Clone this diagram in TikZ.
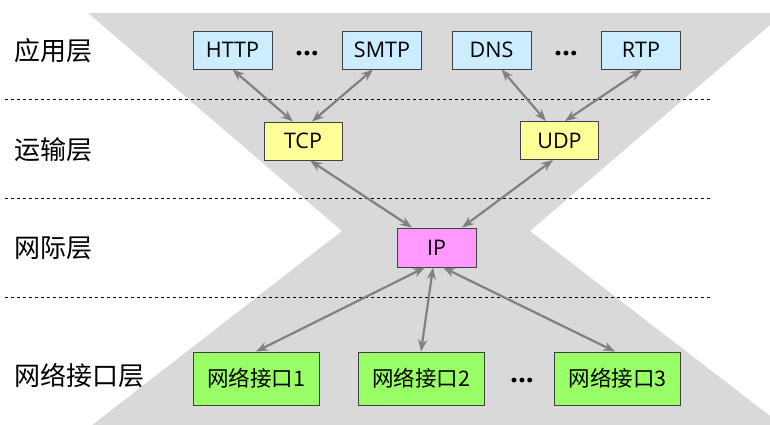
\documentclass[tikz,border=0pt]{standalone}
\usepackage{fontspec}
\setmainfont{Open Sans}
\newfontfamily\cjk{Noto Sans CJK SC}
\usetikzlibrary{arrows.meta}
\definecolor{bgray}{HTML}{D9D9D9}
\definecolor{appblue}{HTML}{CCECFF}
\definecolor{tpyellow}{HTML}{FFFF99}
\definecolor{ippink}{HTML}{FF99FF}
\definecolor{netgreen}{HTML}{99FF66}
\definecolor{edgegray}{HTML}{808080}
\definecolor{bordergray}{HTML}{404040}
\tikzset{
  box/.style={draw=bordergray, line width=0.9pt, inner sep=0pt, font=\fontsize{21.5}{25}\selectfont},
  appbox/.style={box, fill=appblue, minimum width=79pt, minimum height=38pt},
  tpbox/.style={box, fill=tpyellow, minimum width=78pt, minimum height=38pt},
  ipbox/.style={box, fill=ippink, minimum width=79pt, minimum height=39pt},
  netbox/.style={box, fill=netgreen, minimum width=126pt, minimum height=53pt, font=\cjk\fontsize{21.5}{25}\selectfont},
  layerlabel/.style={anchor=west, inner sep=0pt, font=\cjk\fontsize{26}{30}\selectfont},
  sep/.style={draw=black, dashed, line width=0.7pt},
  conn/.style={draw=edgegray, line width=2.2pt, {Stealth[length=12pt,width=9pt]}-{Stealth[length=12pt,width=9pt]}},
  dotsnode/.style={inner sep=0pt, anchor=base, font=\bfseries\fontsize{28}{30}\selectfont}
}
\begin{document}
\begin{tikzpicture}[x=1pt,y=-1pt]
\useasboundingbox (0,0) rectangle (770,424);
\clip (0,0) rectangle (770,424);
\fill[white] (0,0) rectangle (770,424);
% hourglass background
\fill[bgray] (88,13) -- (784,13) -- (530,231) -- (783,426) -- (91,426) -- (342,231) -- cycle;
% dashed separators
\coordinate (s1a) at (5,99);   \coordinate (s1b) at (712,99);
\coordinate (s2a) at (5,198);  \coordinate (s2b) at (712,198);
\coordinate (s3a) at (5,297);  \coordinate (s3b) at (712,297);
\draw[sep] (s1a) -- (s1b);
\draw[sep] (s2a) -- (s2b);
\draw[sep] (s3a) -- (s3b);
% layer labels
\node[layerlabel] (L1) at (14,51) {应用层};
\node[layerlabel] (L2) at (14,150) {运输层};
\node[layerlabel] (L3) at (14,248) {网际层};
\node[layerlabel] (L4) at (14,376) {网络接口层};
% application layer
\node[appbox] (HTTP) at (232.5,50) {HTTP};
\node[appbox] (SMTP) at (382,50) {SMTP};
\node[appbox] (DNS) at (491.5,50) {DNS};
\node[appbox] (RTP) at (641,50) {RTP};
\node[dotsnode] (d1) at (307,55) {...};
\node[dotsnode] (d2) at (566,55) {...};
% transport layer
\node[tpbox] (TCP) at (303,141) {TCP};
\node[tpbox] (UDP) at (559.5,140.5) {UDP};
% internet layer
\node[ipbox] (IP) at (436.5,247.5) {IP};
% network interface layer
\node[netbox] (N1) at (256,378.5) {网络接口1};
\node[netbox] (N2) at (421,378.5) {网络接口2};
\node[netbox] (N3) at (617.5,378.5) {网络接口3};
\node[dotsnode] (d3) at (522,382) {...};
% connectors
\draw[conn] (HTTP.south) -- ([xshift=-10pt]TCP.north);
\draw[conn] ([xshift=-9pt]SMTP.south) -- ([xshift=9pt]TCP.north);
\draw[conn] ([xshift=10pt]DNS.south) -- ([xshift=-13.5pt]UDP.north);
\draw[conn] ([xshift=1pt]RTP.south) -- ([xshift=5.5pt]UDP.north);
\draw[conn] ([xshift=7pt]TCP.south) -- ([xshift=-24.5pt]IP.north);
\draw[conn] ([xshift=-6.5pt]UDP.south) -- ([xshift=25.5pt]IP.north);
\draw[conn] ([xshift=-11.5pt]IP.south) -- (N1.north);
\draw[conn] ([xshift=-3.5pt]IP.south) -- (N2.north);
\draw[conn] ([xshift=6.5pt]IP.south) -- ([xshift=-2.5pt]N3.north);
\end{tikzpicture}
\end{document}
